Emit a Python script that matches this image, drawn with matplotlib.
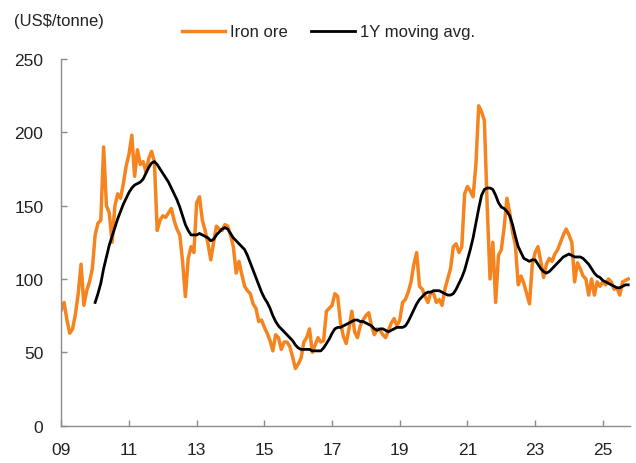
import matplotlib
matplotlib.use('Agg')
import matplotlib.pyplot as plt
import numpy as np

plt.rcParams['font.family'] = ['Liberation Sans', 'DejaVu Sans']

# Iron ore price, monthly, Jan 2009 - Oct 2025 (US$/tonne)
iron_ore = [
    79, 84, 72, 63, 66, 76, 90, 110, 82, 92, 98, 107,            # 2009
    130, 138, 140, 190, 150, 145, 125, 150, 158, 155, 165, 177,  # 2010
    185, 198, 170, 188, 178, 180, 173, 182, 187, 180, 133, 140,  # 2011
    143, 142, 145, 148, 140, 134, 130, 112, 88, 114, 122, 118,   # 2012
    152, 156, 140, 133, 124, 113, 125, 136, 134, 133, 137, 136,  # 2013
    130, 122, 104, 112, 103, 95, 92, 90, 83, 80, 71, 72,         # 2014
    67, 63, 58, 51, 62, 60, 52, 57, 57, 54, 47, 39,              # 2015
    42, 46, 57, 60, 66, 50, 55, 60, 57, 58, 78, 80,              # 2016
    82, 90, 88, 70, 61, 56, 66, 78, 64, 60, 68, 72,              # 2017
    75, 77, 68, 62, 66, 65, 62, 60, 65, 70, 73, 68,              # 2018
    72, 84, 86, 91, 98, 110, 118, 95, 93, 88, 84, 91,            # 2019
    90, 84, 86, 82, 93, 100, 107, 122, 124, 118, 122, 158,       # 2020
    163, 160, 156, 178, 218, 214, 208, 150, 100, 125, 84, 116,   # 2021
    120, 135, 155, 145, 132, 123, 96, 102, 97, 90, 83, 110,      # 2022
    118, 122, 112, 101, 110, 114, 112, 117, 120, 125, 130, 134,  # 2023
    130, 125, 98, 111, 107, 102, 100, 89, 100, 89, 98, 95,       # 2024
    98, 96, 100, 98, 93, 94, 89, 98, 99, 100,                    # 2025
]

# 1Y moving average, monthly, Jan 2010 - Oct 2025
moving_avg = [
    84, 90, 97, 107, 115, 123, 129, 135, 141, 146, 151, 155,     # 2010
    159, 162, 164, 165, 166, 168, 172, 176, 179, 180, 178, 175,  # 2011
    172, 169, 166, 162, 158, 154, 149, 143, 137, 133, 130, 130,  # 2012
    130, 131, 130, 129, 128, 126, 127, 130, 132, 134, 135, 134,  # 2013
    131, 128, 126, 124, 122, 120, 116, 111, 106, 101, 96, 91,    # 2014
    87, 84, 80, 75, 71, 68, 66, 64, 62, 60, 58, 55,              # 2015
    53, 52, 52, 52, 52, 51, 51, 51, 51, 53, 56, 59,              # 2016
    63, 66, 67, 67, 68, 69, 70, 71, 72, 72, 71, 71,              # 2017
    70, 69, 68, 66, 65, 66, 66, 65, 64, 65, 66, 67,              # 2018
    67, 67, 68, 71, 75, 79, 83, 86, 88, 90, 91, 91,              # 2019
    92, 92, 92, 91, 90, 89, 89, 90, 93, 97, 101, 106,            # 2020
    113, 120, 128, 138, 148, 157, 161, 162, 162, 161, 157, 152,  # 2021
    149, 148, 146, 143, 137, 129, 122, 118, 114, 113, 112, 113,  # 2022
    113, 110, 107, 105, 104, 105, 107, 109, 111, 113, 115, 116,  # 2023
    117, 116, 115, 115, 115, 114, 112, 110, 107, 104, 102, 101,  # 2024
    99, 98, 97, 96, 95, 94, 94, 95, 96, 96,                      # 2025
]

xtick_years = [2009, 2011, 2013, 2015, 2017, 2019, 2021, 2023, 2025]
xtick_labels = ['09', '11', '13', '15', '17', '19', '21', '23', '25']
ytick_vals = [0, 50, 100, 150, 200, 250]

x_ore = 2009 + np.arange(len(iron_ore)) / 12
x_ma = 2010 + np.arange(len(moving_avg)) / 12

ORANGE = '#f5841f'
GREY = '#8c8c8c'

fig = plt.figure(figsize=(6.36, 4.64), dpi=100)
ax = fig.add_axes([0.0964, 0.0804, 0.894, 0.7906])

ax.plot(x_ore, iron_ore, color=ORANGE, lw=2.5, label='Iron ore', solid_joinstyle='round')
ax.plot(x_ma, moving_avg, color='black', lw=2.0, label='1Y moving avg.')

ax.set_xlim(2009, 2025.8)
ax.set_ylim(0, 250)
ax.set_xticks(xtick_years)
ax.set_xticklabels(xtick_labels)
ax.set_yticks(ytick_vals)

for s in ['top', 'right']:
    ax.spines[s].set_visible(False)
for s in ['left', 'bottom']:
    ax.spines[s].set_color(GREY)
    ax.spines[s].set_linewidth(1.0)

ax.tick_params(axis='both', direction='in', color=GREY, labelsize=12.5,
               labelcolor='#222222', length=4.5, width=1.0)
ax.tick_params(axis='y', pad=13)
ax.tick_params(axis='x', pad=12)

fig.text(0.022, 0.953, '(US$/tonne)', fontsize=12, color='#222222', va='center', ha='left')

fig.legend(loc='center', bbox_to_anchor=(0.516, 0.929), ncol=2, frameon=False,
           fontsize=12, handlelength=2.6, handletextpad=0.3, columnspacing=1.4,
           labelcolor='#222222')

plt.savefig('out.png', dpi=100, facecolor='white')
plt.close()
